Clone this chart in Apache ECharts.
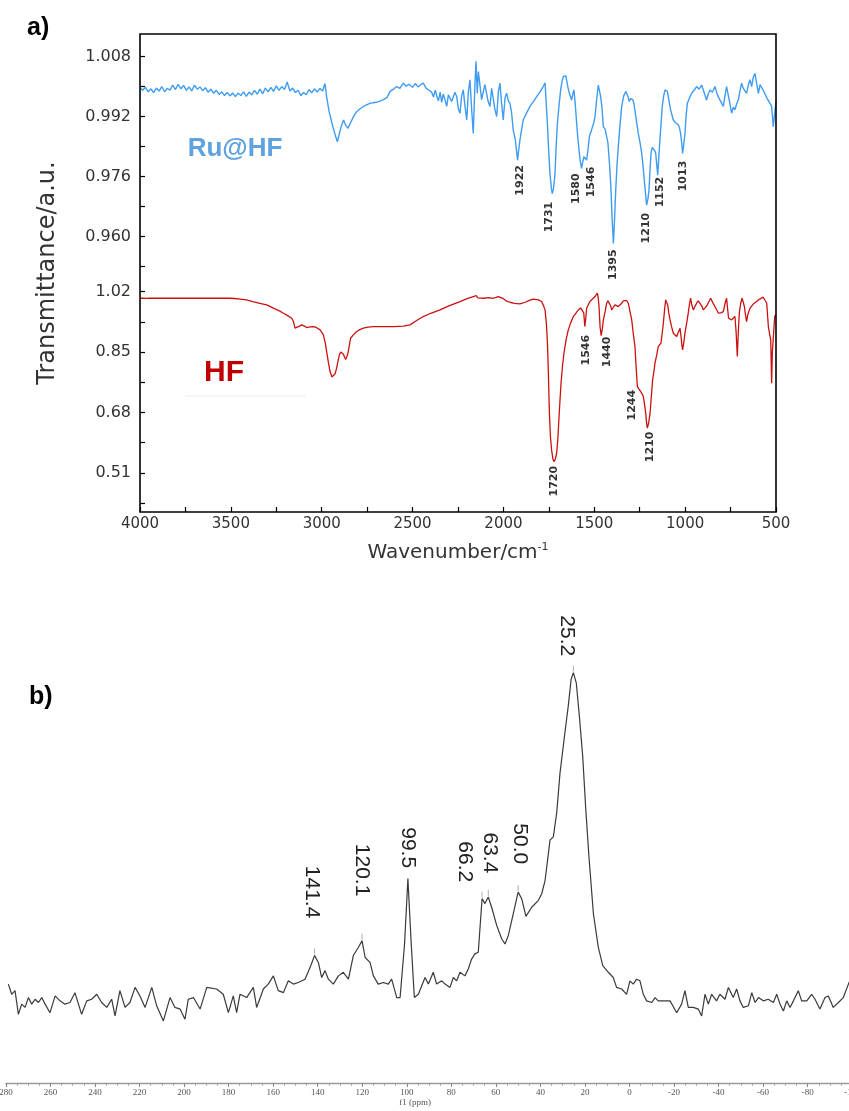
<!DOCTYPE html>
<html><head><meta charset="utf-8">
<script src="https://cdn.jsdelivr.net/npm/echarts@6/dist/echarts.min.js"></script>
<style>html,body{margin:0;padding:0;background:#fff}#c{width:849px;height:1111px}</style>
</head><body><div id="c"></div>
<script>
// ---------- Panel a: FTIR (wavenumber, transmittance) ----------
const ruHF = [[4000,0.9996],[3985,0.9990],[3970,0.9998],[3955,0.9986],[3940,0.9994],[3925,0.9984],[3910,0.9996],[3895,0.9988],[3880,1.0000],[3865,0.9986],[3850,0.9995],[3835,0.9990],[3820,1.0004],[3805,0.9992],[3790,1.0006],[3775,0.9994],[3760,1.0003],[3745,0.9990],[3730,0.9999],[3715,0.9988],[3700,1.0004],[3685,0.9993],[3670,0.9999],[3655,0.9989],[3640,0.9997],[3625,0.9985],[3610,0.9993],[3595,0.9982],[3580,0.9990],[3565,0.9979],[3550,0.9986],[3535,0.9976],[3520,0.9984],[3505,0.9975],[3490,0.9983],[3475,0.9973],[3460,0.9982],[3445,0.9976],[3430,0.9986],[3415,0.9974],[3400,0.9985],[3385,0.9978],[3370,0.9990],[3355,0.9980],[3340,0.9993],[3325,0.9981],[3310,0.9996],[3295,0.9986],[3280,0.9998],[3265,0.9987],[3250,1.0002],[3235,0.9990],[3220,1.0000],[3205,0.9992],[3190,1.0012],[3175,0.9988],[3160,0.9996],[3145,0.9984],[3130,0.9990],[3115,0.9976],[3100,0.9984],[3085,0.9978],[3070,0.9992],[3055,0.9983],[3040,0.9994],[3025,0.9985],[3010,0.9995],[2995,0.9988],[2982,1.0008],
[2973,0.9973],[2960,0.9935],[2945,0.9905],[2930,0.9878],[2914,0.9853],[2905,0.9870],[2895,0.9890],[2880,0.9911],[2868,0.9897],[2855,0.9889],[2840,0.9905],[2825,0.9920],[2808,0.9933],[2790,0.9940],[2771,0.9947],[2750,0.9952],[2735,0.9955],[2716,0.9957],[2700,0.9958],[2680,0.9961],[2660,0.9965],[2640,0.9971],[2624,0.9987],[2605,0.9993],[2588,1.0000],[2570,0.9995],[2551,1.0009],[2535,1.0001],[2520,1.0006],[2500,0.9998],[2485,1.0008],[2470,0.9999],[2455,1.0005],[2441,1.0009],[2425,0.9995],[2410,0.9990],
[2395,0.9985],[2385,0.9972],[2375,0.9990],[2367,0.9975],[2358,0.9962],[2348,0.9985],[2340,0.9958],[2331,0.9980],[2322,0.9966],[2312,0.9947],[2303,0.9978],[2294,0.9982],[2285,0.9960],[2276,0.9955],[2267,0.9985],[2257,0.9973],[2248,0.9940],[2239,0.9929],[2230,0.9975],[2221,0.9991],[2212,0.9950],[2202,0.9911],[2193,0.9985],[2184,1.0018],[2175,0.9940],[2166,0.9875],[2158,0.9990],[2151,1.0067],[2144,0.9982],[2138,1.0040],[2129,1.0035],[2120,0.9965],[2111,0.9964],[2102,1.0005],[2093,1.0009],[2084,0.9960],[2074,0.9947],[2065,0.9995],[2056,0.9991],[2047,0.9940],[2037,0.9920],[2028,0.9985],[2019,1.0009],[2010,0.9955],[2001,0.9911],[1991,0.9970],[1982,0.9982],[1973,0.9962],[1964,0.9955],[1955,0.9930],[1946,0.9884],[1935,0.9860],[1928,0.9830],[1922,0.9804],[1915,0.9835],[1909,0.9858],[1900,0.9885],[1891,0.9911],[1872,0.9930],[1854,0.9947],[1835,0.9960],[1817,0.9973],[1800,0.9985],[1781,1.0000],[1771,1.0010],[1765,0.9960],[1759,0.9911],[1751,0.9830],[1744,0.9769],[1736,0.9728],[1731,0.9715],[1724,0.9730],[1716,0.9769],[1710,0.9840],[1703,0.9902],[1694,0.9950],[1685,0.9991],[1677,1.0015],[1670,1.0027],[1662,1.0031],[1656,1.0028],[1646,1.0000],[1637,0.9982],[1630,0.9972],[1625,0.9964],[1618,0.9980],[1612,0.9991],[1605,0.9955],[1597,0.9902],[1590,0.9860],[1584,0.9831],[1577,0.9800],[1570,0.9782],[1563,0.9800],[1557,0.9813],[1550,0.9808],[1542,0.9804],[1535,0.9830],[1527,0.9867],[1518,0.9880],[1509,0.9884],[1502,0.9905],[1496,0.9920],[1487,0.9965],[1478,1.0004],[1472,0.9990],[1465,0.9973],[1458,0.9945],[1450,0.9893],[1440,0.9886],[1432,0.9884],[1425,0.9850],[1419,0.9813],[1413,0.9770],[1408,0.9724],[1402,0.9650],[1395,0.9582],[1389,0.9640],[1382,0.9724],[1375,0.9790],[1368,0.9840],[1358,0.9900],[1349,0.9947],[1338,0.9975],[1326,0.9987],[1316,0.9975],[1307,0.9960],[1300,0.9968],[1294,0.9973],[1288,0.9965],[1282,0.9955],[1270,0.9915],[1258,0.9875],[1248,0.9850],[1239,0.9822],[1232,0.9790],[1225,0.9751],[1218,0.9715],[1212,0.9684],[1205,0.9700],[1199,0.9724],[1193,0.9780],[1188,0.9822],[1181,0.9838],[1175,0.9840],[1168,0.9830],[1162,0.9822],[1156,0.9790],[1151,0.9764],[1145,0.9810],[1139,0.9858],[1132,0.9905],[1126,0.9947],[1118,0.9975],[1111,0.9991],[1105,0.9990],[1098,0.9987],[1090,0.9965],[1080,0.9938],[1073,0.9925],[1065,0.9911],[1055,0.9905],[1046,0.9900],[1038,0.9898],[1031,0.9890],[1025,0.9875],[1019,0.9850],[1014,0.9822],[1008,0.9845],[1001,0.9875],[995,0.9920],[988,0.9955],[976,0.9970],[964,0.9982],[950,0.9990],[937,1.0000],[923,0.9993],[909,1.0004],[896,0.9985],[882,0.9964],[873,0.9980],[863,0.9991],[850,0.9985],[836,1.0000],[827,0.9985],[818,0.9973],[804,0.9960],[790,0.9947],[781,0.9975],[772,1.0000],[758,0.9965],[744,0.9929],[735,0.9945],[726,0.9938],[716,0.9955],[707,0.9964],[698,0.9990],[689,1.0009],[680,0.9995],[671,0.9990],[662,0.9982],[652,1.0005],[643,1.0018],[634,1.0000],[625,1.0025],[616,1.0035],[607,1.0010],[597,0.9982],[588,1.0005],[579,1.0009],[570,0.9990],[561,0.9991],[551,0.9970],[542,0.9973],[533,0.9955],[524,0.9947],[515,0.9893],[508,0.9925],[500,0.9960]];

const hf = [[4000,1.0013],[3980,1.0016],[3965,1.0010],[3950,1.0015],[3930,1.0013],[3900,1.0013],[3800,1.0013],[3700,1.0013],[3600,1.0013],[3505,1.0013],[3480,1.0005],[3450,0.9990],[3413,0.9967],[3380,0.9920],[3340,0.9870],[3303,0.9826],[3260,0.9720],[3230,0.9650],[3211,0.9592],[3190,0.9530],[3165,0.9451],[3155,0.9350],[3147,0.9170],[3138,0.9123],[3125,0.9220],[3110,0.9263],[3095,0.9230],[3083,0.9188],[3065,0.9205],[3046,0.9216],[3030,0.9190],[3009,0.9123],[2991,0.8982],[2980,0.8750],[2973,0.8513],[2963,0.8200],[2954,0.7951],[2944,0.7800],[2936,0.7763],[2927,0.7880],[2918,0.8044],[2910,0.8250],[2903,0.8419],[2895,0.8500],[2887,0.8513],[2880,0.8440],[2876,0.8372],[2868,0.8290],[2863,0.8279],[2858,0.8420],[2854,0.8513],[2847,0.8720],[2841,0.8888],[2825,0.8990],[2808,0.9076],[2790,0.9130],[2771,0.9170],[2745,0.9200],[2716,0.9216],[2680,0.9216],[2640,0.9216],[2600,0.9216],[2590,0.9200],[2580,0.9222],[2550,0.9230],[2514,0.9263],[2480,0.9380],[2441,0.9498],[2400,0.9590],[2349,0.9685],[2300,0.9800],[2239,0.9920],[2200,1.0000],[2166,1.0060],[2150,1.0085],[2140,1.0025],[2111,1.0013],[2080,1.0030],[2060,1.0010],[2040,1.0035],[2028,1.0060],[2019,1.0013],[2000,1.0000],[1982,0.9930],[1964,0.9900],[1940,0.9870],[1909,0.9854],[1880,0.9900],[1854,0.9960],[1835,0.9985],[1808,0.9966],[1790,0.9920],[1781,0.9826],[1771,0.9685],[1763,0.9260],[1757,0.8654],[1752,0.7800],[1747,0.6779],[1741,0.6100],[1735,0.5747],[1728,0.5500],[1722,0.5419],[1715,0.5480],[1707,0.5653],[1700,0.6100],[1694,0.6685],[1688,0.7200],[1683,0.7623],[1675,0.8100],[1667,0.8466],[1655,0.8850],[1643,0.9123],[1630,0.9320],[1615,0.9498],[1600,0.9600],[1588,0.9685],[1575,0.9740],[1564,0.9779],[1558,0.9600],[1552,0.9216],[1546,0.9500],[1542,0.9732],[1533,0.9830],[1524,0.9920],[1510,0.9990],[1496,1.0060],[1489,1.0100],[1483,1.0154],[1479,1.0050],[1474,0.9779],[1468,0.9200],[1462,0.8960],[1456,0.9150],[1450,0.9404],[1440,0.9650],[1432,0.9873],[1425,0.9940],[1417,0.9967],[1410,0.9800],[1404,0.9685],[1395,0.9760],[1386,0.9826],[1377,0.9800],[1368,0.9779],[1358,0.9830],[1349,0.9873],[1340,0.9940],[1331,0.9985],[1322,0.9950],[1313,0.9873],[1304,0.9650],[1294,0.9404],[1285,0.9000],[1276,0.8654],[1270,0.8100],[1263,0.7529],[1256,0.7470],[1249,0.7435],[1240,0.7350],[1230,0.7247],[1224,0.7050],[1217,0.6779],[1212,0.6500],[1208,0.6357],[1201,0.6500],[1193,0.6779],[1186,0.7250],[1179,0.7716],[1172,0.7950],[1166,0.8185],[1157,0.8400],[1148,0.8654],[1140,0.8700],[1133,0.8748],[1127,0.9000],[1120,0.9310],[1113,0.9700],[1107,0.9967],[1102,0.9900],[1096,0.9826],[1090,0.9600],[1083,0.9404],[1074,0.9200],[1065,0.9029],[1056,0.8980],[1047,0.8935],[1038,0.9050],[1032,0.9100],[1028,0.9170],[1022,0.8900],[1018,0.8700],[1014,0.8560],[1008,0.8750],[1001,0.9029],[992,0.9300],[983,0.9592],[976,0.9850],[970,1.0013],[962,0.9800],[955,0.9685],[946,0.9780],[937,0.9873],[928,0.9940],[918,0.9967],[909,0.9800],[900,0.9685],[889,0.9750],[878,0.9826],[869,0.9920],[860,1.0013],[848,0.9890],[836,0.9779],[826,0.9680],[817,0.9592],[804,0.9600],[790,0.9638],[781,0.9850],[772,1.0013],[766,0.9700],[761,0.9451],[752,0.9420],[744,0.9404],[735,0.9450],[726,0.9498],[720,0.9100],[716,0.8700],[713,0.8372],[708,0.9000],[702,0.9592],[695,0.9850],[687,1.0013],[680,0.9900],[674,0.9779],[668,0.9550],[662,0.9357],[655,0.9550],[649,0.9650],[643,0.9732],[625,0.9850],[607,0.9920],[590,0.9990],[570,1.0042],[560,0.9950],[551,0.9873],[546,0.9500],[542,0.9216],[535,0.9000],[529,0.8841],[524,0.7623],[520,0.8500],[515,0.8888],[511,0.9200],[507,0.9498],[502,0.9550]];

const upperTicks = [0.952,0.960,0.968,0.976,0.984,0.992,1.000,1.008];
const upperLabels = [0.960,0.976,0.992,1.008];
const lowerTicks = [0.425,0.51,0.595,0.68,0.765,0.85,0.935,1.02];
const lowerLabels = [0.51,0.68,0.85,1.02];
const wnTicks = [500,750,1000,1250,1500,1750,2000,2250,2500,2750,3000,3250,3500,3750,4000];
const wnLabels = [500,1000,1500,2000,2500,3000,3500,4000];

// peak annotations: [label, transmittance where the label's end sits]
const ruPeaks = [['1922',0.97909],['1731',0.96931],['1580',0.97688],['1546',0.97864],['1395',0.95661],['1210',0.96637],['1152',0.97597],['1013',0.98024]];
const hfPeaks = [['1720',0.5297],['1546',0.8982],['1440',0.8934],['1244',0.7435],['1210',0.6262]];

// ---------- Panel b: 13C NMR (ppm, intensity) ----------
const nmrPpm = [278.9,277.4,275.9,274.4,272.9,271.4,269.9,268.4,266.9,265.4,263.9,262.4,260.2,257.9,255.7,253.5,251.2,249.0,246.0,243.7,241.5,239.2,237.0,234.7,232.5,231.0,228.8,226.5,224.3,222.0,219.8,217.5,214.5,212.3,209.3,206.3,204.1,201.8,199.6,198.1,195.8,192.8,189.8,185.4,182.4,180.1,177.9,176.4,174.9,171.9,168.9,167.4,164.4,162.2,159.9,157.7,155.4,153.2,150.9,148.7,145.7,143.4,141.4,139.7,138.2,136.7,135.2,133.0,130.7,128.5,126.2,124.0,121.7,120.1,118.7,116.5,115.0,112.8,110.5,108.3,106.8,104.5,103.0,101.0,99.5,98.0,96.6,94.8,91.8,90.3,88.1,86.6,84.3,82.8,80.6,79.1,77.6,76.1,73.9,72.4,70.9,69.4,67.9,67.1,66.2,64.9,63.4,61.9,59.6,57.4,55.9,54.4,52.2,50.0,48.4,46.5,43.9,40.9,39.4,37.9,36.4,35.7,34.2,32.7,31.2,29.0,27.5,26.2,25.2,23.9,22.5,21.0,19.7,18.2,16.2,14.0,12.0,9.5,7.3,5.8,3.5,1.3,-0.2,-1.7,-3.2,-4.7,-6.2,-7.7,-10.0,-11.5,-12.9,-15.2,-18.2,-21.2,-23.4,-24.9,-26.4,-28.7,-30.9,-32.4,-33.9,-35.4,-36.9,-39.1,-40.6,-42.9,-44.4,-46.6,-48.1,-49.6,-51.1,-53.4,-54.9,-56.4,-57.9,-60.1,-62.3,-64.6,-66.1,-67.6,-69.1,-70.6,-72.1,-73.6,-75.8,-77.3,-79.6,-81.8,-83.3,-85.5,-87.8,-89.3,-91.5,-93.8,-96.0,-98.3,-99.5];
const nmrInt = [5.1,2.0,3.1,-4.1,-1.0,-2.0,1.0,-1.0,0.5,-0.5,1.0,-1.0,-3.6,1.5,0,-1.0,-0.5,2.5,-4.1,0,0.5,2.0,-0.5,-2.0,0.5,-4.6,3.1,-2.0,-0.5,4.1,1.5,-2.0,4.1,-1.5,-6.1,1.0,-2.0,-2.5,-5.6,0.5,1.0,-2.5,4.1,3.6,2.0,-3.6,1.5,-3.6,2.0,1.0,4.1,-2.0,3.6,5.1,7.6,3.1,2.5,6.1,5.1,5.6,6.6,10.2,13.8,11.7,7.1,9.2,6.6,5.1,7.6,8.7,6.6,13.8,16.3,18.3,13.2,11.7,7.6,5.1,5.6,5.1,6.6,1.0,1.0,17.3,37.2,17.3,1.0,2.0,7.1,5.1,8.7,5.1,6.1,5.1,4.1,7.1,6.1,8.7,7.6,9.7,12.7,14.3,14.8,22.4,31.1,29.6,31.6,28.5,22.9,18.9,17.3,19.9,26.5,33.1,31.1,25.7,28.5,30.6,32.6,36.7,44.9,48.9,49.9,57.1,69.3,81.6,89.7,97.9,99.9,96.8,86.6,74.4,59.1,43.8,26.5,16.3,10.7,8.7,7.1,4.1,3.6,2.0,6.1,5.1,6.6,6.1,2.0,0,-0.5,1.0,0,0,0,-3.6,-1.0,3.1,-2.0,-2.0,-2.5,-4.6,2.0,-1.0,2.0,0,2.0,0.5,4.1,1.0,3.6,0,-2.0,-1.5,2.5,-0.5,1.0,0,0.5,-0.5,2.0,-1.0,-3.1,0,-2.0,0,3.1,0,0,2.0,0.5,-2.5,1.0,1.5,-2.0,-0.5,1.0,5.1,7.0];
// [label, intensity where label's end sits]
const nmrPeaks = [['141.4',25.1],['120.1',31.8],['99.5',40.4],['66.2',36.1],['63.4',38.8],['50.0',41.6],['25.2',104.9]];
const nmrPeakTops = [[141.4,13.8],[120.1,18.3],[66.2,31.1],[63.4,31.6],[50.0,33.1],[25.2,99.9]];

// ---------- styling ----------
const SANS = '"DejaVu Sans", sans-serif';
const ARIAL = '"Liberation Sans", Arial, sans-serif';
const SERIF = '"Liberation Serif", "DejaVu Serif", serif';
const BLUE = '#3f9cf2', RED = '#cc1010';
const ruDx = {'1922':3,'1731':-3,'1580':-4,'1546':5,'1395':0,'1210':-1,'1152':2.5,'1013':0};
const hfDx = {'1720':0,'1546':0,'1440':2,'1244':-9,'1210':3};
const nmrDx = {'141.4':-3,'120.1':0,'99.5':0,'66.2':-17,'63.4':2,'50.0':2,'25.2':-7};

const chart = echarts.init(document.getElementById('c'), null, {renderer:'canvas', width:849, height:1111});
const tickStyle = {color:'#000', width:1.2};
chart.setOption({
  animation:false,
  backgroundColor:'#fff',
  grid:[
    {left:140, top:34, width:636, height:232.7, outerBoundsMode:'none', containLabel:false},
    {left:140, top:266.7, width:636, height:245.3, outerBoundsMode:'none', containLabel:false},
    {left:5.9, top:600, width:846.3, height:483, outerBoundsMode:'none', containLabel:false}
  ],
  xAxis:[
    {gridIndex:0, type:'value', min:500, max:4000, inverse:true, show:false},
    {gridIndex:1, type:'value', min:500, max:4000, inverse:true,
      axisLine:{show:false}, splitLine:{show:false},
      axisTick:{customValues:wnTicks, inside:true, length:5, lineStyle:tickStyle},
      axisLabel:{customValues:wnLabels, fontSize:15, fontFamily:SANS, color:'#333', margin:5,
        formatter:v=>String(v)},
      name:'{a|Wavenumber/cm}{s|-1}', nameLocation:'middle', nameGap:30,
      nameTextStyle:{rich:{
        a:{fontSize:20, fontFamily:SANS, color:'#333', lineHeight:22},
        s:{fontSize:11, fontFamily:SANS, color:'#333', lineHeight:11, verticalAlign:'top'}}}},
    {gridIndex:2, type:'value', min:-100, max:280, interval:20, inverse:true,
      axisLine:{onZero:false, lineStyle:{color:'#9a9a9a', width:1.4}},
      axisTick:{length:4, lineStyle:{color:'#888'}},
      minorTick:{show:true, splitNumber:4, length:2.5, lineStyle:{color:'#999'}},
      splitLine:{show:false},
      axisLabel:{fontSize:9, fontFamily:SERIF, color:'#555', margin:5, formatter:v=>String(v)},
      name:'f1 (ppm)', nameLocation:'middle', nameGap:15,
      nameTextStyle:{fontSize:9, fontFamily:SERIF, color:'#555', padding:[0,28,0,0]}}
  ],
  yAxis:[
    {gridIndex:0, type:'value', min:0.952, max:1.014,
      axisLine:{show:false}, splitLine:{show:false},
      axisTick:{customValues:upperTicks, inside:true, length:5, lineStyle:tickStyle},
      axisLabel:{customValues:upperLabels, fontSize:16, fontFamily:SANS, color:'#333', margin:9,
        formatter:v=>v.toFixed(3)}},
    {gridIndex:1, type:'value', min:0.4, max:1.09,
      axisLine:{show:false}, splitLine:{show:false},
      axisTick:{customValues:lowerTicks, inside:true, length:5, lineStyle:tickStyle},
      axisLabel:{customValues:lowerLabels, fontSize:16, fontFamily:SANS, color:'#333', margin:9,
        formatter:v=>v.toFixed(2)}},
    {gridIndex:2, type:'value', min:-25, max:122, show:false}
  ],
  series:[
    {type:'line', name:'Ru@HF', xAxisIndex:0, yAxisIndex:0, data:ruHF, symbol:'none',
      lineStyle:{color:BLUE, width:1.4}},
    {type:'line', name:'HF', xAxisIndex:1, yAxisIndex:1, data:hf, symbol:'none',
      lineStyle:{color:RED, width:1.3}},
    {type:'line', name:'NMR', xAxisIndex:2, yAxisIndex:2, data:nmrPpm.map((p,i)=>[p,nmrInt[i]]),
      symbol:'none', lineStyle:{color:'#3a3a3a', width:1.2}}
  ]
});

// ---------- annotations placed through the chart's own scales ----------
const g = [];
function txt(x,y,text,font,fill,align,valign,rot){
  return {type:'text', x:x, y:y, rotation:rot||0, silent:true, z:50,
    style:{text:text, font:font, fill:fill, align:align, verticalAlign:valign,
      textAlign:align, textVerticalAlign:valign}};
}
g.push({type:'rect', shape:{x:140, y:34, width:636, height:478}, z:40, silent:true,
  style:{fill:'none', stroke:'#000', lineWidth:1.6}});
g.push(txt(27,28,'a)','bold 25px '+ARIAL,'#000','left','middle'));
g.push(txt(29,697,'b)','bold 25px '+ARIAL,'#000','left','middle'));
g.push(txt(235,149,'Ru@HF','bold 26px '+ARIAL,'#5fa2e0','center','middle'));
g.push(txt(224,373,'HF','bold 30px '+ARIAL,'#c00000','center','middle'));
g.push({type:'line', shape:{x1:185,y1:396,x2:306,y2:396}, silent:true, style:{stroke:'#ececec', lineWidth:1}});
g.push(txt(48,273,'Transmittance/a.u.','24px '+SANS,'#333','center','middle',Math.PI/2));

ruPeaks.forEach(([t,v])=>{
  const p = chart.convertToPixel({gridIndex:0},[parseFloat(t),v]);
  g.push(txt(p[0]+(ruDx[t]||0),p[1],t,'bold 11px '+SANS,'#333','right','middle',Math.PI/2));
});
hfPeaks.forEach(([t,v])=>{
  const p = chart.convertToPixel({gridIndex:1},[parseFloat(t),v]);
  g.push(txt(p[0]+(hfDx[t]||0),p[1],t,'bold 11px '+SANS,'#333','right','middle',Math.PI/2));
});
nmrPeaks.forEach(([t,v])=>{
  const p = chart.convertToPixel({gridIndex:2},[parseFloat(t),v]);
  g.push(txt(p[0]+(nmrDx[t]||0),p[1],t,'21px '+ARIAL,'#222','right','middle',-Math.PI/2));
});
nmrPeakTops.forEach(([x,v])=>{
  const p = chart.convertToPixel({gridIndex:2},[x,v]);
  g.push({type:'line', silent:true, shape:{x1:p[0],y1:p[1]-1,x2:p[0],y2:p[1]-7},
    style:{stroke:'#999', lineWidth:0.8}});
});
chart.setOption({graphic:g});
</script></body></html>
